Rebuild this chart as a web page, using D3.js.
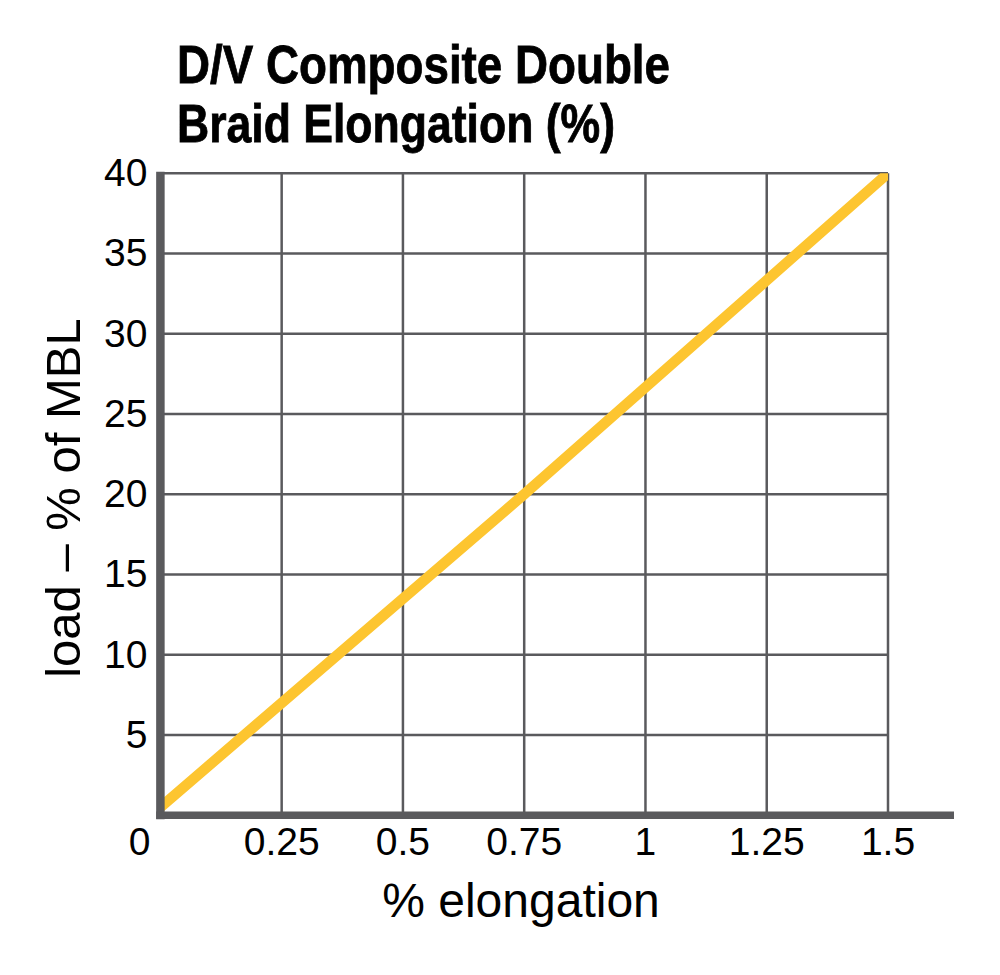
<!DOCTYPE html>
<html>
<head>
<meta charset="utf-8">
<script src="https://cdn.jsdelivr.net/npm/d3@7"></script>
<style>
  body { margin: 0; background: #fff; }
  text { font-family: "Liberation Sans", Arial, Helvetica, sans-serif; }
</style>
</head>
<body>
<div class="chart"></div>
<script>
// data
const elongation = [0, 0.75, 1.5];
const load = [0.5, 20, 40];
const xTicks = [0, 0.25, 0.5, 0.75, 1, 1.25, 1.5];
const xTickLabels = ['0', '0.25', '0.5', '0.75', '1', '1.25', '1.5'];
const yTicks = [5, 10, 15, 20, 25, 30, 35, 40];
const yTickLabels = ['5', '10', '15', '20', '25', '30', '35', '40'];
const titleLines = ['D/V Composite Double', 'Braid Elongation (%)'];

const data = elongation.map((e, i) => ({e: e, load: load[i]}));

var W = 1000, H = 975;
var margin = {top: 173.3, right: 112, bottom: 159.7, left: 160.4},
width = W - margin.left - margin.right,
height = H - margin.top - margin.bottom;

const grey = '#5a5a5d';
const yellow = '#fdc530';

const svg = d3.select('.chart')
    .append('svg')
    .attr('width', W)
    .attr('height', H)

const g = svg.append('g')
    .attr('transform', 'translate(' + margin.left + ',' + margin.top + ')')

const xScale = d3.scaleLinear()
    .domain([0, 1.5])
    .range([0, width])

const yScale = d3.scaleLinear()
    .domain([0, 40])
    .range([height, 0])

// title
svg.append('g')
    .selectAll('text')
    .data(titleLines)
    .enter()
    .append('text')
    .attr('x', 177)
    .attr('y', (d, i) => 83 + i * 59)
    .attr('font-size', 53)
    .attr('font-weight', 'bold')
    .attr('fill', '#000')
    .attr('stroke', '#000')
    .attr('stroke-width', 0.8)
    .attr('textLength', (d, i) => i == 0 ? 493 : 438)
    .attr('lengthAdjust', 'spacingAndGlyphs')
    .text(d => d)

// grid
g.append('g')
    .selectAll('line')
    .data(xTicks.slice(1))
    .enter()
    .append('line')
    .attr('x1', d => xScale(d))
    .attr('x2', d => xScale(d))
    .attr('y1', 0)
    .attr('y2', height)
    .attr('stroke', grey)
    .attr('stroke-width', 2.5)

g.append('g')
    .selectAll('line')
    .data(yTicks)
    .enter()
    .append('line')
    .attr('x1', 0)
    .attr('x2', width)
    .attr('y1', d => yScale(d))
    .attr('y2', d => yScale(d))
    .attr('stroke', grey)
    .attr('stroke-width', 2.5)

// the curve, clipped to the plot area
g.append('clipPath')
    .attr('id', 'plot-clip')
    .append('rect')
    .attr('x', 0)
    .attr('y', 0)
    .attr('width', width)
    .attr('height', height)

const line = d3.line()
    .x(d => xScale(d.e))
    .y(d => yScale(d.load));

g.append('path')
    .datum(data)
    .attr('d', line)
    .attr('clip-path', 'url(#plot-clip)')
    .attr('fill', 'none')
    .attr('stroke', yellow)
    .attr('stroke-width', 10.5)

// heavy axis bars
g.append('line')
    .attr('x1', 0)
    .attr('x2', 0)
    .attr('y1', -1.5)
    .attr('y2', height + 4)
    .attr('stroke', grey)
    .attr('stroke-width', 8.5)

g.append('line')
    .attr('x1', -4.2)
    .attr('x2', width + 66)
    .attr('y1', height)
    .attr('y2', height)
    .attr('stroke', grey)
    .attr('stroke-width', 7.5)

// tick labels
g.append('g')
    .selectAll('text')
    .data(xTicks)
    .enter()
    .append('text')
    .attr('x', d => d == 0 ? -10 : xScale(d))
    .attr('y', height + 40)
    .attr('text-anchor', d => d == 0 ? 'end' : 'middle')
    .attr('font-size', 39)
    .attr('fill', '#000')
    .text((d, i) => xTickLabels[i])

g.append('g')
    .selectAll('text')
    .data(yTicks)
    .enter()
    .append('text')
    .attr('x', -13)
    .attr('y', d => yScale(d))
    .attr('dy', '0.33em')
    .attr('text-anchor', 'end')
    .attr('font-size', 39)
    .attr('fill', '#000')
    .text((d, i) => yTickLabels[i])

// axis titles
svg.append('text')
    .attr('x', 521)
    .attr('y', 917)
    .attr('text-anchor', 'middle')
    .attr('font-size', 48)
    .attr('fill', '#000')
    .text('% elongation')

svg.append('text')
    .attr('transform', 'translate(80,498) rotate(-90)')
    .attr('text-anchor', 'middle')
    .attr('font-size', 49)
    .attr('fill', '#000')
    .text('load – % of MBL')
</script>
</body>
</html>
